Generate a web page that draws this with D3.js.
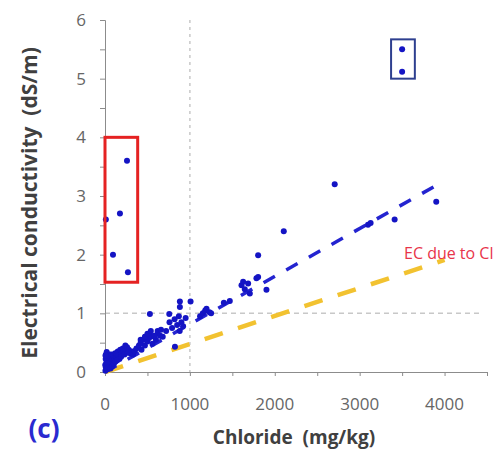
<!DOCTYPE html>
<html>
<head>
<meta charset="utf-8">
<script src="https://cdn.jsdelivr.net/npm/d3@7"></script>
<style>
  body { margin: 0; background: #fff; overflow: hidden; }
  svg text { font-family: "Open Sans", "Noto Sans", sans-serif; white-space: pre; }
</style>
</head>
<body>
<div id="chart"></div>
<script>
// chloride (mg/kg) vs EC (dS/m)
var chloride = [5,10,15,8,12,20,25,30,35,40,45,50,55,60,70,75,80,90,100,110,120,130,140,150,160,170,180,195,210,220,240,260,280,300,310,330,350,370,400,420,430,450,470,480,500,520,540,560,580,600,620,650,680,
  3,6,18,28,42,65,85,105,125,145,190,230,270,
  420,470,500,540,580,620,660,
  529,757,882,882,1008,824,720,760,790,820,850,870,900,920,880,950,
  1120,1153,1180,1196,1230,1250,1400,1470,
  1608,1627,1647,1686,1706,1784,1804,1902,1804,2106,2706,3098,3129,3412,3902,
  10,94,176,259,270,
  3500,3500];
var ec = [0.02,0.08,0.15,0.22,0.3,0.34,0.1,0.2,0.05,0.27,0.15,0.22,0.3,0.12,0.25,0.18,0.3,0.22,0.28,0.2,0.32,0.25,0.3,0.35,0.28,0.22,0.38,0.32,0.4,0.35,0.45,0.42,0.38,0.32,0.35,0.3,0.36,0.4,0.45,0.5,0.38,0.55,0.45,0.6,0.52,0.58,0.62,0.48,0.6,0.55,0.65,0.62,0.6,
  0.12,0.28,0.05,0.15,0.08,0.06,0.1,0.14,0.18,0.2,0.26,0.3,0.33,
  0.55,0.6,0.65,0.7,0.62,0.7,0.72,
  0.99,0.99,1.2,1.11,1.2,0.43,0.7,0.85,0.75,0.9,0.8,0.95,0.85,0.78,0.7,0.92,
  0.95,1.0,1.05,1.08,1.02,1.0,1.18,1.21,
  1.48,1.54,1.41,1.51,1.34,1.6,1.62,1.4,1.99,2.4,3.2,2.51,2.54,2.6,2.9,
  2.6,2.0,2.7,3.6,1.7,
  5.5,5.12];

var xTicks = [0, 1000, 2000, 3000, 4000];
var yTicks = [0, 1, 2, 3, 4, 5, 6];
var fitX = [0, 4000];
var fitEC = [0, 3.26];   // blue dashed fit
var clEC = [0, 1.91];    // EC due to Cl
var redBox = [0, 385, 1.53, 4.0];     // x0,x1,y0,y1
var blueBox = [3370, 3650, 5.0, 5.67];

var w = 504, h = 452;
var x = d3.scaleLinear().domain([0, 4500]).range([105, 487]);
var y = d3.scaleLinear().domain([0, 6]).range([372, 20]);

var svg = d3.select("#chart").append("svg").attr("width", w).attr("height", h);

// reference lines
svg.append("line")
  .attr("x1", x(1000)).attr("x2", x(1000)).attr("y1", y(6)).attr("y2", y(0))
  .attr("stroke", "#c8c8c8").attr("stroke-width", 1.5).attr("stroke-dasharray", "3,4");
svg.append("line")
  .attr("x1", x(0)).attr("x2", x(4450)).attr("y1", y(1)).attr("y2", y(1))
  .attr("stroke", "#c8c8c8").attr("stroke-width", 1.5).attr("stroke-dasharray", "5,4");

// axes
var xAxis = d3.axisBottom(x).tickValues(d3.range(0, 4501, 500)).tickSize(4).tickFormat("");
var yAxis = d3.axisLeft(y).tickValues(d3.range(0, 6.01, 0.5)).tickSize(5).tickFormat("");
var gx = svg.append("g").attr("transform", "translate(0," + y(0) + ")").call(xAxis);
var gy = svg.append("g").attr("transform", "translate(" + x(0) + ",0)").call(yAxis);
[gx, gy].forEach(function(g) {
  g.selectAll("path,line").attr("stroke", "#8c8c8c");
});

svg.selectAll("text.xt").data(xTicks).enter().append("text")
  .attr("x", function(d) { return x(d); }).attr("y", 410)
  .attr("text-anchor", "middle").attr("font-size", 17).attr("fill", "#666")
  .text(function(d) { return d; });
svg.selectAll("text.yt").data(yTicks).enter().append("text")
  .attr("x", 81).attr("y", function(d) { return y(d) + 6; })
  .attr("text-anchor", "middle").attr("font-size", 17).attr("fill", "#666")
  .text(function(d) { return d; });

// trend lines
var line = d3.line().x(function(d) { return x(d[0]); }).y(function(d) { return y(d[1]); });
svg.append("path").datum(d3.zip(fitX, clEC)).attr("d", line)
  .attr("stroke", "#f2c230").attr("stroke-width", 4.5).attr("fill", "none")
  .attr("stroke-dasharray", "19,16");
svg.append("path").datum(d3.zip(fitX, fitEC)).attr("d", line)
  .attr("stroke", "#2424d0").attr("stroke-width", 3.5).attr("fill", "none")
  .attr("stroke-dasharray", "13,13");

// points
svg.selectAll("circle").data(d3.zip(chloride, ec)).enter().append("circle")
  .attr("cx", function(d) { return x(d[0]); })
  .attr("cy", function(d) { return y(d[1]); })
  .attr("r", 3).attr("fill", "#1414c4");

// boxes
svg.append("rect")
  .attr("x", x(redBox[0])).attr("y", y(redBox[3]))
  .attr("width", x(redBox[1]) - x(redBox[0])).attr("height", y(redBox[2]) - y(redBox[3]))
  .attr("fill", "none").attr("stroke", "#e52222").attr("stroke-width", 3);
svg.append("rect")
  .attr("x", x(blueBox[0])).attr("y", y(blueBox[3]))
  .attr("width", x(blueBox[1]) - x(blueBox[0])).attr("height", y(blueBox[2]) - y(blueBox[3]))
  .attr("fill", "none").attr("stroke", "#2e3f8f").attr("stroke-width", 2);

// labels
svg.append("text").attr("x", 404).attr("y", 259).attr("font-size", 16).attr("fill", "#e8344a")
  .text("EC due to Cl");
svg.append("text").attr("x", 294).attr("y", 444).attr("text-anchor", "middle")
  .attr("font-size", 19).attr("font-weight", "bold").attr("fill", "#404040")
  .text("Chloride  (mg/kg)");
svg.append("text").attr("transform", "translate(37,203) rotate(-90)").attr("text-anchor", "middle")
  .attr("font-size", 21).attr("font-weight", "bold").attr("fill", "#404040")
  .text("Electrical conductivity  (dS/m)");
svg.append("text").attr("x", 44).attr("y", 438).attr("text-anchor", "middle")
  .attr("font-size", 26).attr("font-weight", "bold").attr("fill", "#2a2ad0")
  .text("(c)");
</script>
</body>
</html>
